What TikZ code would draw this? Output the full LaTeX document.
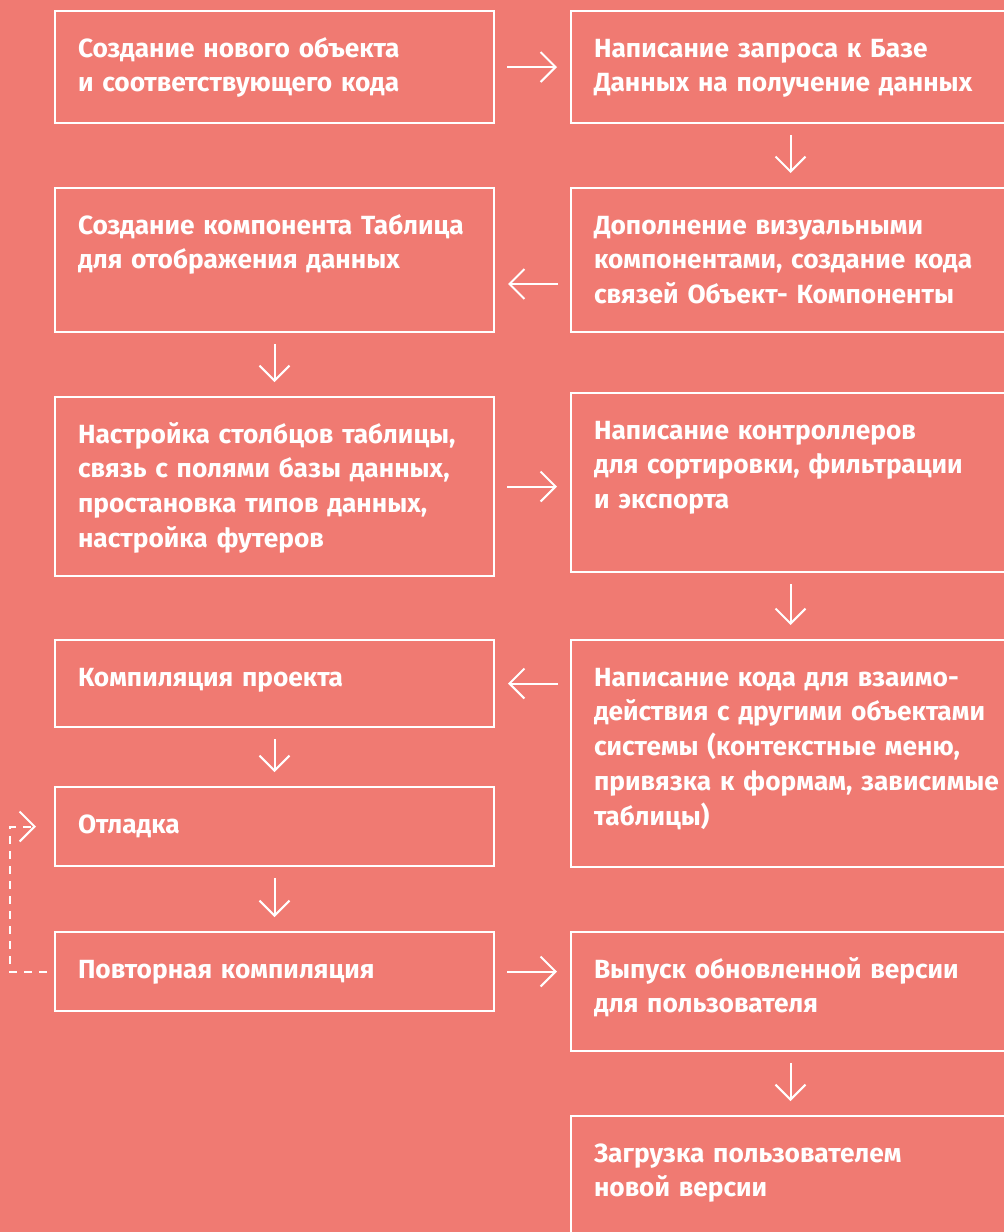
\documentclass[tikz,border=0pt]{standalone}
\usepackage{fontspec}
\setmainfont{Fira Sans}
\usetikzlibrary{arrows.meta}
\definecolor{salmon}{RGB}{240,122,114}

\tikzset{
  stage/.style={draw=white, line width=2.2bp, anchor=north west, outer sep=0pt,
    inner xsep=23bp, inner ysep=0pt, text width=393bp, align=left,
    text height=46bp, text=white,
    font=\bfseries\fontsize{26.3bp}{34.8bp}\selectfont},
  wide/.style={stage, text width=420bp},
  flow/.style={draw=white, line width=2bp,
    -{Straight Barb[length=15bp, width=30bp, line width=2bp]}},
  across/.style={flow, shorten <=13bp, shorten >=14bp},
  down/.style={flow, shorten <=12bp, shorten >=15bp},
  loopback/.style={flow, dash pattern=on 8bp off 7bp}
}

\begin{document}
\begin{tikzpicture}[x=1bp, y=-1bp]
\useasboundingbox (0,0) rectangle (1004,1232);
\fill[salmon] (0,0) rectangle (1004,1232);
\clip (0,0) rectangle (1004,1232);

% left column
\node[stage, text depth=66bp] (l1) at (55,11) {Создание нового объекта\\и соответствующего кода};
\node[stage, text depth=98bp] (l2) at (55,188) {Создание компонента Таблица\\для отображения данных};
\node[stage, text depth=133bp] (l3) at (55,397) {Настройка столбцов таблицы,\\связь с полями базы данных,\\простановка типов данных,\\настройка футеров};
\node[stage, text depth=41bp] (l4) at (55,640) {Компиляция проекта};
\node[stage, text depth=33bp] (l5) at (55,787) {Отладка};
\node[stage, text depth=33bp] (l6) at (55,932) {Повторная компиляция};

% right column (runs past the right edge)
\node[wide, text depth=66bp] (r1) at (571,11) {Написание запроса к Базе\\Данных на получение данных};
\node[wide, text depth=98bp] (r2) at (571,188) {Дополнение визуальными\\компонентами, создание кода\\связей Объект- Компоненты};
\node[wide, text depth=133bp] (r3) at (571,393) {Написание контроллеров\\для сортировки, фильтрации\\и экспорта};
\node[wide, text depth=181bp] (r4) at (571,640) {Написание кода для взаимо-\\действия с другими объектами\\системы (контекстные меню,\\привязка к формам, зависимые\\таблицы)};
\node[wide, text depth=73bp] (r6) at (571,932) {Выпуск обновленной версии\\для пользователя};
\node[wide, text depth=110bp] (r7) at (571,1116) {Загрузка пользователем\\новой версии};

% connectors
\draw[across] (l1) -- (l1 -| r1.west);
\draw[down] ([xshift=-13.5bp]r1.south) -- ([xshift=-13.5bp]r2.north);
\draw[across] ([yshift=-24bp]r2.west) -- ([yshift=-24bp]r2.west -| l2.east);
\draw[down] (l2) -- (l3);
\draw[across] (l3.east) -- (l3.east -| r3.west);
\draw[down] ([xshift=-13.5bp]r3.south) -- ([xshift=-13.5bp]r4.north);
\draw[across] (r4.west |- l4.east) -- (l4.east);
\draw[down] (l4) -- (l5);
\draw[down] (l5) -- (l6);
\draw[across] (l6.east) -- (l6.east -| r6.west);
\draw[down] ([xshift=-13.5bp]r6.south) -- ([xshift=-13.5bp]r7.north);
\draw[loopback, shorten <=8bp, shorten >=19bp] (l6.west) -- ++(-45,0) |- (l5.west);
\end{tikzpicture}
\end{document}
